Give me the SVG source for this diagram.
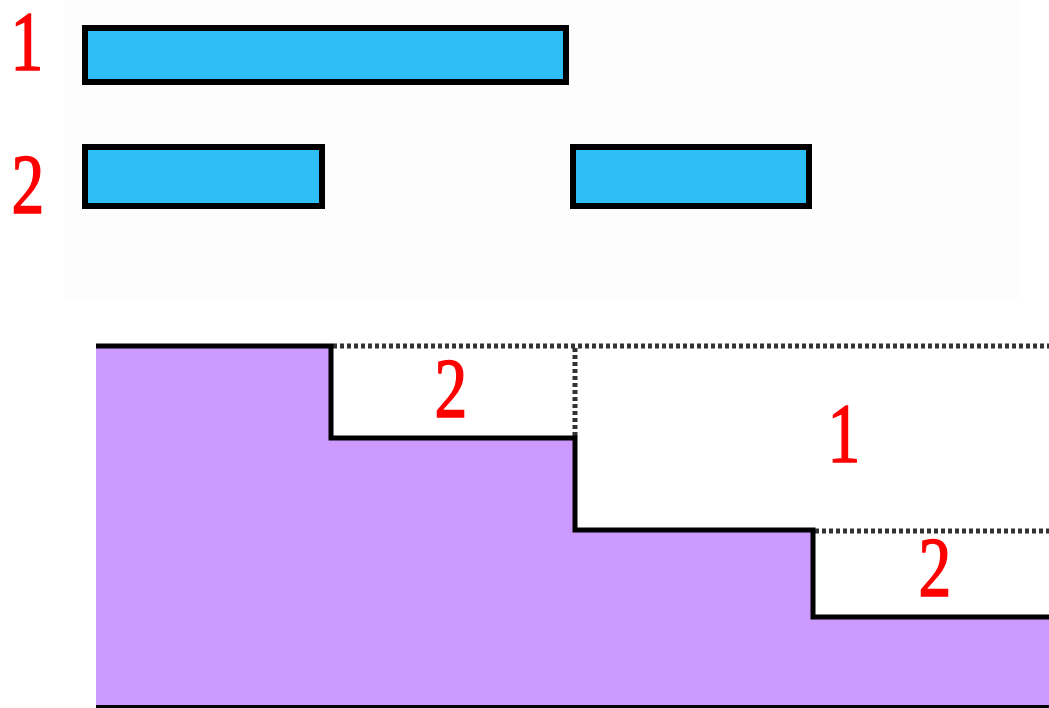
<svg xmlns="http://www.w3.org/2000/svg" width="1049" height="708" viewBox="0 0 1049 708">
<style>
.bar{fill:#2DBEF5;stroke:#000;stroke-width:6}
.lbl{font-family:"Liberation Serif",serif;font-size:84px;fill:#FF0000;stroke:#FF0000;stroke-width:1.6;text-anchor:middle}
.dash{fill:none;stroke:#333;stroke-width:5;stroke-dasharray:4 3}
.edge{fill:none;stroke:#000;stroke-width:5}
</style>
<rect x="0" y="0" width="1049" height="708" fill="#fff"/>
<rect x="65" y="0" width="955" height="300" fill="#fdfdfd"/>
<g id="row1">
<rect class="bar" x="85" y="28" width="481" height="54"/>
<text class="lbl" transform="translate(27,70) scale(0.78,1)">1</text>
</g>
<g id="row2">
<rect class="bar" x="85" y="147" width="237" height="59"/>
<rect class="bar" x="573" y="147" width="236" height="59"/>
<text class="lbl" transform="translate(28,213) scale(0.78,1)">2</text>
</g>
<g id="stairs">
<path d="M96,346 H331 V438 H575 V530 H813 V617 H1049 V706 H96 Z" fill="#CC99FF"/>
<line x1="96" y1="706.5" x2="1049" y2="706.5" stroke="#000" stroke-width="3"/>
</g>
<g id="connectors">
<path class="dash" d="M333,346 H1049"/>
<path class="dash" d="M575,348 V436"/>
<path class="dash" d="M815,531 H1049"/>
<path class="edge" d="M96,346 H331 V438 H575 V530 H813 V617 H1049"/>
</g>
<g id="labels">
<text class="lbl" transform="translate(451,417) scale(0.78,1)">2</text>
<text class="lbl" transform="translate(844,462) scale(0.78,1)">1</text>
<text class="lbl" transform="translate(935,596) scale(0.78,1)">2</text>
</g>
</svg>
